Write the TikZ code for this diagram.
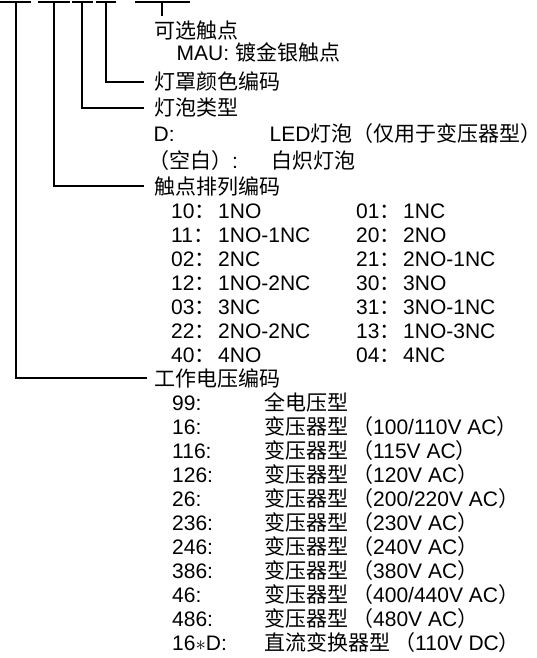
\documentclass[tikz,border=0pt]{standalone}
\usepackage{fontspec}
\setmainfont{Liberation Sans}
\newfontfamily\cjk{Noto Sans CJK SC}
\newcommand\zh[1]{{\cjk #1}}
\newcommand\cell[2]{\makebox[#1pt][l]{#2}}
\newcommand\lp{\hspace{4pt}\zh{（}}
\newcommand\rp{\makebox[8pt][l]{\zh{）}}}
\begin{document}
\begin{tikzpicture}[x=1pt,y=-1pt,
  bar/.style={line width=1.3pt},
  conn/.style={line width=1.3pt},
  lab/.style={anchor=base west,inner sep=0pt,font=\fontsize{21}{25}\selectfont}]
\useasboundingbox (0,0) rectangle (537,658);
\def\p{24}
\def\c{218}% baseline of first contact row
\def\w{410}% baseline of first voltage row
% top bars
\draw[bar] (0,2) -- (31,2);
\draw[bar] (38,2) -- (70,2);
\draw[bar] (72,2) -- (93,2);
\draw[bar] (96,2) -- (116,2);
\draw[bar] (135,2) -- (190,2);
\coordinate (b1) at (16,2);
\coordinate (b2) at (54,2);
\coordinate (b3) at (82,2);
\coordinate (b4) at (106,2);
\coordinate (b5) at (162,2);
\coordinate (b5end) at (162,16);
% labels
\node[lab] (l0) at (154,39) {\zh{可选触点}};
\node[lab] (l1) at (176.5,61) {MAU: \zh{镀金银触点}};
\node[lab] (l2) at (154,90) {\zh{灯罩颜色编码}};
\node[lab] (l3) at (154,116) {\zh{灯泡类型}};
\node[lab] (l4) at (153.5,142) {\cell{116}{D:}LED\zh{灯泡（仅用于变压器型}\rp};
\node[lab] (l5) at (148,168) {\cell{123}{\zh{（空白）}:}\zh{白炽灯泡}};
\node[lab] (l6) at (154,194) {\zh{触点排列编码}};
\node[lab] (c1) at (171,\c) {\cell{47}{10\zh{：}}\cell{138}{1NO}\cell{47}{01\zh{：}}1NC};
\node[lab] (c2) at (171,\c+\p) {\cell{47}{11\zh{：}}\cell{138}{1NO-1NC}\cell{47}{20\zh{：}}2NO};
\node[lab] (c3) at (171,\c+2*\p) {\cell{47}{02\zh{：}}\cell{138}{2NC}\cell{47}{21\zh{：}}2NO-1NC};
\node[lab] (c4) at (171,\c+3*\p) {\cell{47}{12\zh{：}}\cell{138}{1NO-2NC}\cell{47}{30\zh{：}}3NO};
\node[lab] (c5) at (171,\c+4*\p) {\cell{47}{03\zh{：}}\cell{138}{3NC}\cell{47}{31\zh{：}}3NO-1NC};
\node[lab] (c6) at (171,\c+5*\p) {\cell{47}{22\zh{：}}\cell{138}{2NO-2NC}\cell{47}{13\zh{：}}1NO-3NC};
\node[lab] (c7) at (171,\c+6*\p) {\cell{47}{40\zh{：}}\cell{138}{4NO}\cell{47}{04\zh{：}}4NC};
\node[lab] (l7) at (154,\c+7*\p) {\zh{工作电压编码}};
\node[lab] (v1) at (172,\w) {\cell{92}{99:}\zh{全电压型}};
\node[lab] (v2) at (172,\w+\p) {\cell{92}{16:}\zh{变压器型}\lp 100/110V AC\rp};
\node[lab] (v3) at (172,\w+2*\p) {\cell{92}{116:}\zh{变压器型}\lp 115V AC\rp};
\node[lab] (v4) at (172,\w+3*\p) {\cell{92}{126:}\zh{变压器型}\lp 120V AC\rp};
\node[lab] (v5) at (172,\w+4*\p) {\cell{92}{26:}\zh{变压器型}\lp 200/220V AC\rp};
\node[lab] (v6) at (172,\w+5*\p) {\cell{92}{236:}\zh{变压器型}\lp 230V AC\rp};
\node[lab] (v7) at (172,\w+6*\p) {\cell{92}{246:}\zh{变压器型}\lp 240V AC\rp};
\node[lab] (v8) at (172,\w+7*\p) {\cell{92}{386:}\zh{变压器型}\lp 380V AC\rp};
\node[lab] (v9) at (172,\w+8*\p) {\cell{92}{46:}\zh{变压器型}\lp 400/440V AC\rp};
\node[lab] (v10) at (172,\w+9*\p) {\cell{92}{486:}\zh{变压器型}\lp 480V AC\rp};
\node[lab] (v11) at (172,\w+10*\p) {\cell{92}{16$\ast$D:}\zh{直流变换器型}\lp 110V DC\rp};
% connectors
\draw[conn] (b5) -- (b5end);
\draw[conn] (b4) |- ([xshift=-10pt,yshift=8pt]l2.base west);
\draw[conn] (b3) |- ([xshift=-10pt,yshift=8pt]l3.base west);
\draw[conn] (b2) |- ([xshift=-10pt,yshift=8pt]l6.base west);
\draw[conn] (b1) |- ([xshift=-7pt,yshift=8pt]l7.base west);
\end{tikzpicture}
\end{document}
